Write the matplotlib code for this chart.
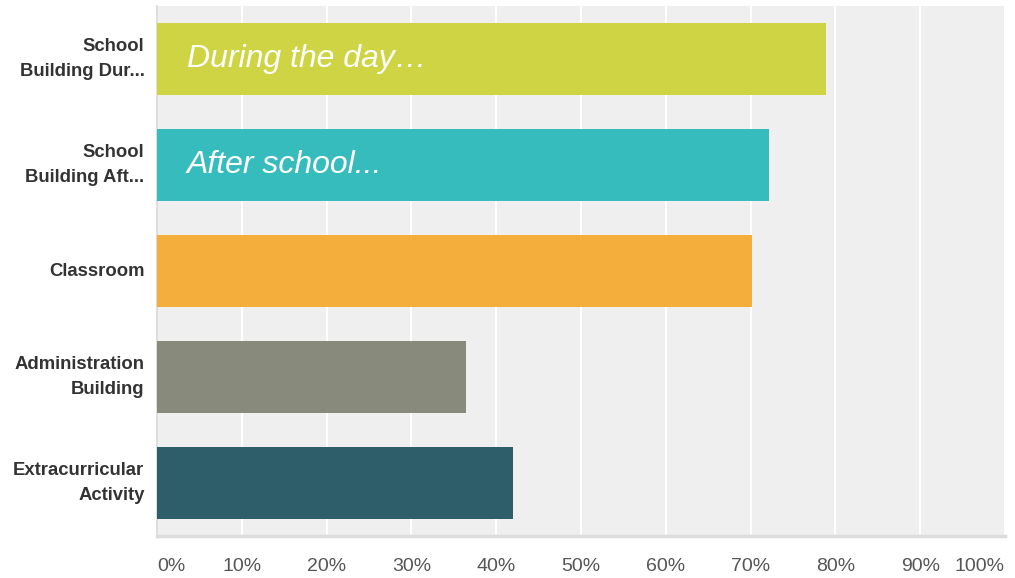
import matplotlib.pyplot as plt
import numpy as np

categories = ['School\nBuilding Dur...', 'School\nBuilding Aft...', 'Classroom',
              'Administration\nBuilding', 'Extracurricular\nActivity']
values = [78.9, 72.2, 70.2, 36.4, 42.0]
colors = ['#cfd444', '#36bcbc', '#f4ae3b', '#888a7b', '#2f5e6b']
notes = ['During the day\u2026', 'After school...']
ticks = list(range(0, 101, 10))
tick_labels = [f'{t}%' for t in ticks]

plt.rcParams['font.family'] = ['Liberation Sans', 'DejaVu Sans']

fig = plt.figure(figsize=(10.15, 5.78), dpi=100)
ax = fig.add_axes([157/1015, 1-536/578, 848/1015, 530/578])
ax.set_facecolor('#efefef')

y = np.arange(len(categories))
ax.barh(y, values, height=0.68, color=colors, zorder=3)
ax.set_ylim(len(categories) - 0.5, -0.5)
ax.set_xlim(0, 100)

for i, note in enumerate(notes):
    ax.text(3.5, y[i], note, color='white', style='italic', fontsize=23,
            va='center', ha='left', zorder=4)

ax.set_xticks(ticks)
ax.set_xticklabels(tick_labels)
ax.grid(axis='x', color='white', linewidth=1.5, zorder=1)
ax.tick_params(axis='x', length=0, pad=16, labelsize=14, labelcolor='#555555')
labs = ax.get_xticklabels()
labs[0].set_ha('left')
labs[-1].set_ha('right')

ax.set_yticks(y)
ax.set_yticklabels(categories, fontweight='bold', fontsize=13.3, color='#333333',
                   linespacing=1.65, va='center')
ax.tick_params(axis='y', length=0, pad=9)

for s in ['top', 'right']:
    ax.spines[s].set_visible(False)
ax.spines['left'].set_color('#d8d8d8')
ax.spines['left'].set_linewidth(1.2)
ax.spines['bottom'].set_color('#dcdcdc')
ax.spines['bottom'].set_linewidth(2.5)

fig.savefig('out.png', dpi=100)
